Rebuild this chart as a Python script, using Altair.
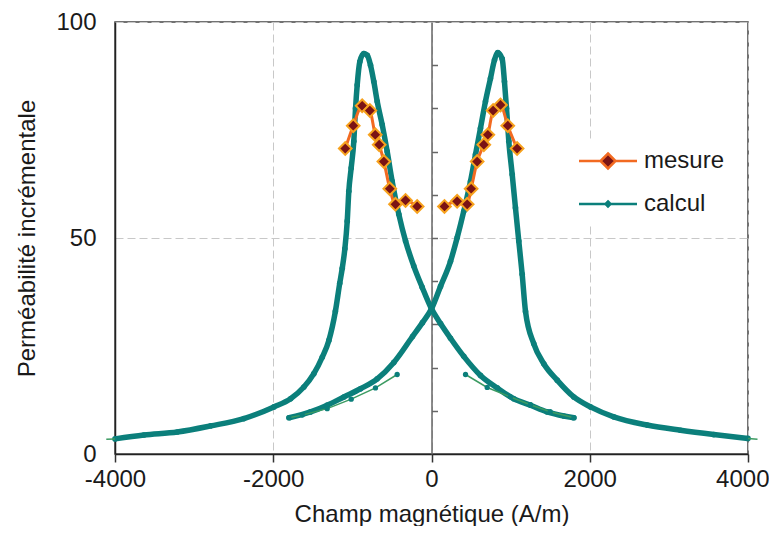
import altair as alt
import pandas as pd

FONT = "Liberation Sans"
TEAL = "#0B7F7B"
GREEN = "#3C9B62"
ORANGE = "#F26A21"
DIAM_FILL = "#7A1315"
DIAM_STROKE = "#F7A21E"

series_names = ["mesure", "calcul"]

# ---- measured values (mesure) ----
mes_left_x = [-1090, -989, -876, -779, -711, -661, -602, -527, -455, -328, -181]
mes_left_y = [70.7, 76.0, 80.6, 79.5, 73.9, 71.6, 67.7, 61.4, 57.8, 58.7, 57.3]
mes_right_x = [164, 324, 451, 501, 577, 661, 712, 779, 872, 964, 1082]
mes_right_y = [57.3, 58.5, 57.8, 61.4, 67.7, 71.6, 73.9, 79.5, 80.8, 76.0, 70.7]

# ---- computed curve A (peak on the negative side) ----
calA_x = [-4000, -3635, -3213, -2792, -2371, -1992, -1781, -1613, -1487, -1381,
          -1297, -1215, -1160, -1128, -1095, -1065, -1045, -1015, -982, -960,
          -939, -906, -855, -812, -771, -729, -686, -623, -560, -497,
          -413, -328, -224, -118, 0, 114, 240, 408, 619, 830,
          1040, 1251, 1462, 1672, 1800]
calA_y = [3.5, 4.4, 5.1, 6.5, 8.2, 10.9, 12.8, 15.5, 18.6, 22.4,
          26.3, 33.0, 39.5, 43.0, 47.5, 53.9, 60.8, 66.2, 72.4, 80.0,
          85.4, 90.8, 92.7, 92.3, 90.0, 86.2, 81.6, 76.2, 70.0, 63.1,
          55.5, 49.3, 43.5, 38.6, 33.6, 30.2, 26.8, 22.6, 18.2, 15.3,
          12.8, 11.3, 9.75, 8.8, 8.4]

# ---- computed curve B (peak on the positive side) ----
calB_x = [-1800, -1529, -1318, -1108, -897, -686, -476, -240, -114, 0,
          114, 240, 325, 408, 493, 556, 619, 682, 745, 796,
          838, 893, 922, 948, 977, 1020, 1061, 1103, 1146, 1188,
          1293, 1419, 1588, 1798, 2009, 2303, 2725, 3146, 3567, 4000]
calB_y = [8.4, 9.75, 11.3, 13.2, 15.1, 17.4, 21.2, 27.2, 30.4, 33.6,
          38.8, 44.6, 50.1, 56.2, 63.1, 69.3, 75.4, 81.6, 86.9, 91.2,
          92.9, 91.5, 86.2, 80.0, 72.4, 64.7, 57.0, 49.3, 41.6, 33.0,
          25.5, 20.9, 17.1, 13.2, 10.9, 8.6, 6.7, 5.5, 4.5, 3.6]

# ---- thin return branches and extensions ----
thinR_x = [430, 704, 998, 1250, 1500, 1800]
thinR_y = [18.4, 15.4, 13.2, 11.4, 9.8, 8.4]
thinL_x = [-1803, -1634, -1318, -1015, -708, -434]
thinL_y = [8.4, 9.0, 10.5, 12.7, 15.3, 18.4]
extL_x = [-4110, -4000]
extL_y = [3.4, 3.5]
extR_x = [4000, 4120]
extR_y = [3.6, 3.4]

x_ticks = [-4000, -2000, 0, 2000, 4000]
y_ticks = [0, 50, 100]
center_ticks = [10, 20, 30, 40, 50, 60, 70, 80, 90]


def frame(xs, ys, group):
    return pd.DataFrame({"x": xs, "y": ys, "g": group})


mes_df = pd.concat([frame(mes_left_x, mes_left_y, "L"),
                    frame(mes_right_x, mes_right_y, "R")])
cal_df = pd.concat([frame(calA_x, calA_y, "A"), frame(calB_x, calB_y, "B")])
thin_df = pd.concat([frame(thinR_x, thinR_y, "R"), frame(thinL_x, thinL_y, "L"),
                     frame(extL_x, extL_y, "EL"), frame(extR_x, extR_y, "ER")])
thin_pts = pd.concat([frame(thinR_x, thinR_y, "R"), frame(thinL_x, thinL_y, "L")])
leg_df = pd.DataFrame({"serie": series_names})

xs = alt.Scale(domain=[-4000, 4000], nice=False, zero=False)
ys = alt.Scale(domain=[0, 100], nice=False)

xaxis = alt.Axis(values=x_ticks, title="Champ magnétique (A/m)", grid=True,
                 labelExpr="'' + datum.value",
                 labelAlign={"condition": {"test": "datum.value == 4000",
                                           "value": "right"}, "value": "center"},
                 labelOffset={"condition": {"test": "datum.value == 4000",
                                            "value": 21}, "value": 0},
                 gridDash=[8, 4], gridColor="#c8c8c8", gridWidth=1,
                 tickSize=8, tickColor="#333", tickWidth=1.5,
                 domainColor="#222", domainWidth=1.5,
                 labelFont=FONT, labelFontSize=24, labelColor="#1a1a1a",
                 labelPadding=5, labelFlush=False, labelOverlap=False,
                 titleFont=FONT, titleFontSize=24, titleFontWeight="normal",
                 titleColor="#1a1a1a", titlePadding=11)
yaxis = alt.Axis(values=y_ticks, title="Perméabilité incrémentale", grid=True,
                 gridDash=[8, 4], gridColor="#c8c8c8", gridWidth=1,
                 ticks=False, domainColor="#222", domainWidth=1.5,
                 labelFont=FONT, labelFontSize=24, labelColor="#1a1a1a",
                 labelPadding=19, labelFlush=False, labelOverlap=False,
                 titleFont=FONT, titleFontSize=24, titleFontWeight="normal",
                 titleColor="#1a1a1a", titlePadding=16)
caxis = alt.Axis(orient="right", offset=-316.5, values=center_ticks,
                 labels=False, ticks=True, tickSize=6, tickColor="#666",
                 tickWidth=1.5, domainColor="#666", domainWidth=1.5,
                 grid=False, title=None)

X = alt.X("x:Q", scale=xs, axis=xaxis)

cal_line = alt.Chart(cal_df).mark_line(color=TEAL, strokeWidth=5.5,
                                       interpolate="monotone").encode(
    x=X, y=alt.Y("y:Q", scale=ys, axis=yaxis), detail="g:N")
cal_pts = alt.Chart(cal_df).mark_circle(color=TEAL, size=32, opacity=1).encode(
    x=X, y=alt.Y("y:Q", scale=ys, axis=caxis))
thin_line = alt.Chart(thin_df).mark_line(color=GREEN, strokeWidth=1.5).encode(
    x=X, y=alt.Y("y:Q", scale=ys, axis=None), detail="g:N")
thin_p = alt.Chart(thin_pts).mark_circle(color=TEAL, size=28, opacity=1).encode(
    x=X, y=alt.Y("y:Q", scale=ys, axis=None))
mes_line = alt.Chart(mes_df).mark_line(color=ORANGE, strokeWidth=3,
                                       interpolate="monotone").encode(
    x=X, y=alt.Y("y:Q", scale=ys, axis=None), detail="g:N")
mes_pts = alt.Chart(mes_df).mark_point(shape="diamond", filled=True, fill=DIAM_FILL,
                                       stroke=DIAM_STROKE, strokeWidth=2,
                                       size=160, opacity=1).encode(
    x=X, y=alt.Y("y:Q", scale=ys, axis=None))

path_mes = "M-2.9,0H-0.75M0.75,0H2.9M0,-0.75L0.75,0L0,0.75L-0.75,0Z"
path_cal = "M-2.9,0H2.9M0,-0.25L0.25,0L0,0.25L-0.25,0Z"
leg = alt.Legend(title=None, orient="none", legendX=455, legendY=117,
                 padding=10, fillColor="white", symbolSize=400,
                 symbolStrokeWidth=2.5, symbolOffset=16, labelOffset=24,
                 labelFont=FONT, labelFontSize=24, labelColor="#1a1a1a",
                 rowPadding=18, labelLimit=0)
legend_layer = alt.Chart(leg_df).transform_filter("false").mark_point(
    filled=True, opacity=1).encode(
    shape=alt.Shape("serie:N", scale=alt.Scale(domain=series_names,
                                               range=[path_mes, path_cal]), legend=leg),
    fill=alt.Fill("serie:N", scale=alt.Scale(domain=series_names,
                                             range=[DIAM_FILL, TEAL]), legend=leg),
    stroke=alt.Stroke("serie:N", scale=alt.Scale(domain=series_names,
                                                 range=[ORANGE, TEAL]), legend=leg),
)

chart = alt.layer(cal_line, cal_pts, thin_line, thin_p, mes_line, mes_pts,
                  legend_layer).resolve_axis(y="independent").properties(
    width=633, height=432,
    autosize=alt.AutoSizeParams(type="none"),
    padding={"left": 107, "top": 14, "right": 21, "bottom": 72},
    background="white",
).configure_view(stroke="#444", strokeWidth=1.5)

chart.save("out.html", embed_options={"renderer": "svg", "actions": False})
